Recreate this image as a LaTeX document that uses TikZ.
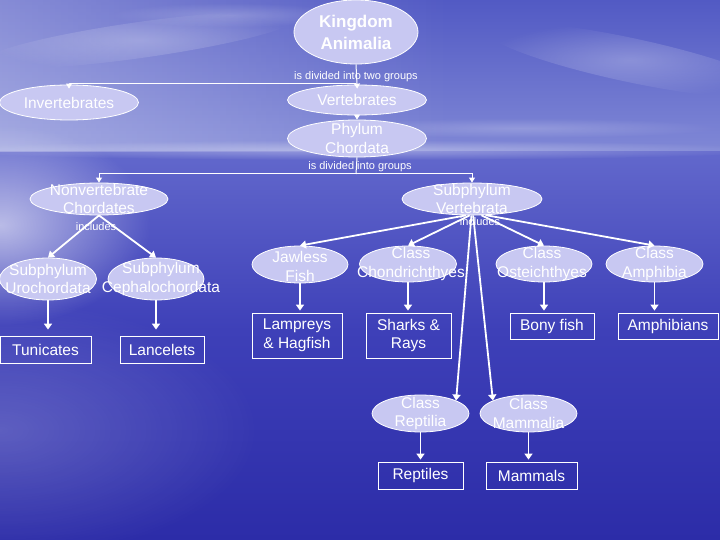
\documentclass[tikz,border=0pt]{standalone}
\usepackage{fontspec}
\setmainfont{Liberation Sans}
\usetikzlibrary{shapes.geometric,arrows.meta,fadings,calc}
\definecolor{lav}{RGB}{200,200,242}
\definecolor{skytop}{RGB}{82,90,196}
\definecolor{skymid}{RGB}{128,136,214}
\definecolor{seatop}{RGB}{98,104,204}
\definecolor{seamid}{RGB}{62,64,184}
\definecolor{seabot}{RGB}{44,44,168}
\tikzfading[name=fadeR, left color=transparent!0, right color=transparent!100]
\tikzfading[name=glow, inner color=transparent!0, outer color=transparent!100]
\begin{document}
\begin{tikzpicture}[x=1pt,y=-1pt,
  ell/.style={ellipse, draw=white, line width=0.8pt, fill=lav, inner sep=0pt},
  etext/.style={text=white, align=center, inner sep=0pt, font=\fontsize{15.5}{18.5}\selectfont},
  box/.style={rectangle, draw=white, line width=0.8pt, text=white, inner sep=0pt, align=center, font=\fontsize{15.5}{18.5}\selectfont},
  thinl/.style={draw=white, line width=1pt},
  thina/.style={draw=white, line width=1pt, -{Triangle[width=6pt,length=5pt]}},
  arr/.style={draw=white, line width=1.8pt, -{Triangle[width=8pt,length=6pt]}},
  lbl/.style={text=white, font=\fontsize{11}{13}\selectfont, inner sep=1pt}]
% background
\useasboundingbox (0,0) rectangle (720,540);
\shade[top color=skytop, bottom color=skymid] (0,0) rectangle (720,152);
\shade[top color=seatop, bottom color=seamid] (0,152) rectangle (720,330);
\shade[top color=seamid, bottom color=seabot] (0,330) rectangle (720,540);
\fill[white, opacity=0.3, path fading=fadeR] (0,0) rectangle (450,152);
\fill[white, opacity=0.35, path fading=glow] (360,150) ellipse (420 and 10);
\fill[white, opacity=0.6, path fading=glow] (0,225) ellipse (150 and 100);
\fill[white, opacity=0.2, path fading=glow] (0,430) ellipse (260 and 130);
\fill[white, opacity=0.25, path fading=glow, rotate around={8:(140,40)}] (140,40) ellipse (160 and 18);
\fill[white, opacity=0.25, path fading=glow, rotate around={-12:(630,60)}] (630,60) ellipse (150 and 22);
\fill[white, opacity=0.2, path fading=glow] (230,15) ellipse (120 and 12);
\fill[white, opacity=0.2, path fading=glow] (520,128) ellipse (200 and 10);
% nodes
\node[ell, minimum width=124pt, minimum height=64pt,
  label={[etext, font=\fontsize{17}{22}\selectfont\bfseries]center:{Kingdom\\Animalia}}] (KA) at (356,32) {};
\node[ell, minimum width=139pt, minimum height=35pt,
  label={[etext]center:{Invertebrates}}] (INV) at (69,102.5) {};
\node[ell, minimum width=139pt, minimum height=30pt,
  label={[etext]center:{Vertebrates}}] (VE) at (357,100) {};
\node[ell, minimum width=139pt, minimum height=37pt,
  label={[etext]center:{Phylum\\Chordata}}] (PC) at (357,138.5) {};
\node[ell, minimum width=138pt, minimum height=32pt,
  label={[etext]center:{Nonvertebrate\\Chordates}}] (NC) at (99,199) {};
\node[ell, minimum width=140pt, minimum height=32pt,
  label={[etext]center:{Subphylum\\Vertebrata}}] (SV) at (472,199) {};
\node[ell, minimum width=97pt, minimum height=42pt,
  label={[etext]center:{Subphylum\\Urochordata}}] (SU) at (48,279) {};
\node[ell, minimum width=96pt, minimum height=42pt,
  label={[etext, xshift=5pt]center:{Subphylum\\Cephalochordata}}] (SC) at (156,279) {};
\node[ell, minimum width=96pt, minimum height=37pt,
  label={[etext, yshift=-2pt]center:{Jawless\\Fish}}] (JF) at (300,264.5) {};
\node[ell, minimum width=97pt, minimum height=36pt,
  label={[etext, xshift=3pt]center:{Class\\Chondrichthyes}}] (CC) at (408,264) {};
\node[ell, minimum width=96pt, minimum height=36pt,
  label={[etext, xshift=-2pt]center:{Class\\Osteichthyes}}] (CO) at (544,264) {};
\node[ell, minimum width=97pt, minimum height=36pt,
  label={[etext]center:{Class\\Amphibia}}] (CA) at (654.5,264) {};
\node[ell, minimum width=97pt, minimum height=37pt,
  label={[etext]center:{Class\\Reptilia}}] (CR) at (420.5,413.5) {};
\node[ell, minimum width=97pt, minimum height=37pt,
  label={[etext]center:{Class\\Mammalia}}] (CM) at (528.5,413.5) {};
\node[box, minimum width=91pt, minimum height=27pt] (TU) at (45.5,349.5) {Tunicates};
\node[box, minimum width=84pt, minimum height=27pt] (LA) at (162,349.5) {Lancelets};
\node[box, minimum width=90pt, minimum height=45pt] (LH) at (297,335.5) {Lampreys\\\& Hagfish};
\node[box, minimum width=85pt, minimum height=45pt] (SR) at (408.5,335.5) {Sharks \&\\Rays};
\node[box, minimum width=84pt, minimum height=26pt] (BF) at (552,326) {Bony fish};
\node[box, minimum width=100pt, minimum height=26pt] (AM) at (668,326) {Amphibians};
\node[box, minimum width=85pt, minimum height=27pt] (RE) at (420.5,475.5) {Reptiles};
\node[box, minimum width=91pt, minimum height=27pt] (MA) at (531.5,475.5) {Mammals};
% top connectors
\coordinate (j1) at (356,84);
\draw[thina, shorten >=-4pt] (KA.south) -- (VE.north);
\draw[thina, shorten >=-4pt] (j1) -| (INV.north);
\draw[thina] (VE.south) -- (PC.north);
\coordinate (j2) at (356,174);
\draw[thinl] (PC.south) -- (j2);
\draw[thina] (j2) -| (NC.north);
\draw[thina] (j2) -| (SV.north);
% lower connectors
\draw[arr] (NC.south) -- (SU.north);
\draw[arr] (NC.south) -- (SC.north);
\draw[arr, shorten >=6pt] (SU.south) -- (SU.south |- TU.north);
\draw[arr, shorten >=6pt] (SC.south) -- (SC.south |- LA.north);
\draw[arr] (SV.250) -- (JF.north);
\draw[arr] (SV.262) -- (CC.north);
\draw[arr] (SV.300) -- (CO.north);
\draw[arr] (SV.310) -- (CA.north);
\draw[arr] (SV.268) -- (CR.20);
\draw[arr] (SV.274) -- (CM.160);
\draw[arr, shorten >=2pt] (JF.south) -- (JF.south |- LH.north);
\draw[arr, shorten >=2pt] (CC.south) -- (CC.south |- SR.north);
\draw[arr, shorten >=2pt] (CO.south) -- (CO.south |- BF.north);
\draw[arr, shorten >=2pt] (CA.south) -- (CA.south |- AM.north);
\draw[arr, shorten >=2pt] (CR.south) -- (CR.south |- RE.north);
\draw[arr, shorten >=2pt] (CM.south) -- (CM.south |- MA.north);
% labels
\node[lbl] (L1) at (356,77) {is divided into two groups};
\node[lbl] (L2) at (360,167) {is divided into groups};
\node[lbl] (L3) at (96,227) {includes};
\node[lbl] (L4) at (480,221.5) {includes};
\end{tikzpicture}
\end{document}
